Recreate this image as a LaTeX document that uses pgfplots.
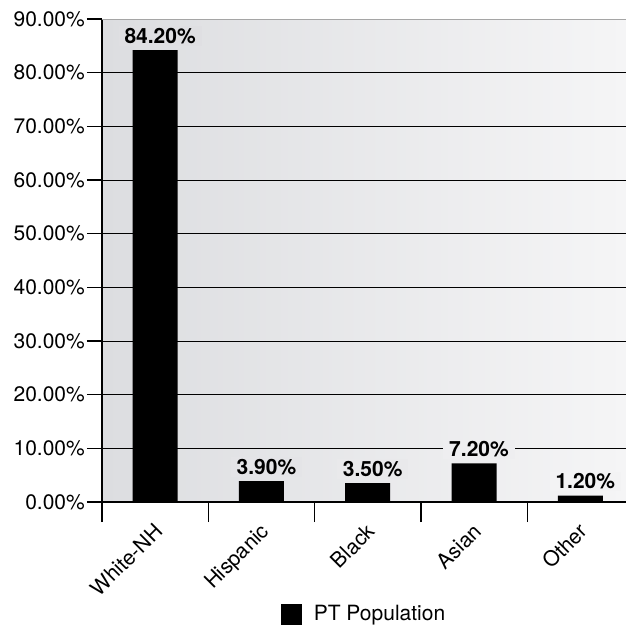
\documentclass[border=0pt]{standalone}
\usepackage{fontspec}
\setmainfont{TeX Gyre Heros}
\usepackage{pgfplots}
\pgfplotsset{compat=1.18}

\definecolor{bglo}{RGB}{220,221,224}
\definecolor{bghi}{RGB}{245,245,246}
\definecolor{topline}{RGB}{165,165,165}

\begin{document}
\begin{tikzpicture}[font=\fontsize{21}{25}\selectfont]
\begin{axis}[
  scale only axis,
  width=524pt, height=483pt,
  xmin=-0.5, xmax=4.43,
  ymin=0, ymax=90,
  axis x line*=bottom,
  axis y line*=left,
  axis line style={black, line width=1.3pt},
  axis background/.style={left color=bglo, right color=bghi},
  ytick={0,10,...,90},
  yticklabels={0.00\%,10.00\%,20.00\%,30.00\%,40.00\%,50.00\%,60.00\%,70.00\%,80.00\%,90.00\%},
  ymajorgrids,
  major grid style={black, line width=1pt},
  ytick align=outside,
  major tick length=15pt,
  ytick style={black, line width=1.3pt},
  yticklabel style={inner sep=2pt},
  xtick={0,1,2,3,4},
  xticklabels={White-NH,Hispanic,Black,Asian,Other},
  major x tick style={draw=none},
  minor xtick={-0.5,0.5,1.5,2.5,3.5},
  minor tick length=20pt,
  xtick align=outside,
  minor x tick style={draw=black, line width=1.3pt},
  xticklabel style={anchor=north east, inner sep=0pt, text height=15pt, text depth=4pt,
    xshift=-2pt, yshift=-5pt, rotate=45},
  ybar, bar width=45pt,
  /pgf/number format/assume math mode=true,
  visualization depends on={100*(x+0.5)/4.93 \as \bgpct},
  nodes near coords={\pgfmathprintnumber[fixed,fixed zerofill,precision=2]{\pgfplotspointmeta}\%},
  nodes near coords style={font=\fontsize{21}{25}\selectfont\bfseries, anchor=south,
    fill=bghi!\bgpct!bglo, inner xsep=6pt, inner ysep=2pt, yshift=4pt, xshift=5pt},
  legend style={at={(0.5,-0.2319)}, anchor=center, draw=none, fill=none,
    font=\fontsize{21}{25}\selectfont},
  legend image code/.code={\fill[black] (-2pt,-10.5pt) rectangle (19pt,10.5pt);},
  legend cell align=left,
]
\addplot[fill=black, draw=none] coordinates {(0,84.2) (1,3.9) (2,3.5) (3,7.2) (4,1.2)};
\addlegendentry{\hspace{10pt}PT Population}
\draw[topline, line width=1.3pt] (rel axis cs:0,1) -- (rel axis cs:1,1);
\end{axis}
\pgfresetboundingbox
\path[use as bounding box] (-102pt,-124pt) rectangle (524pt,502pt);
\end{tikzpicture}
\end{document}
